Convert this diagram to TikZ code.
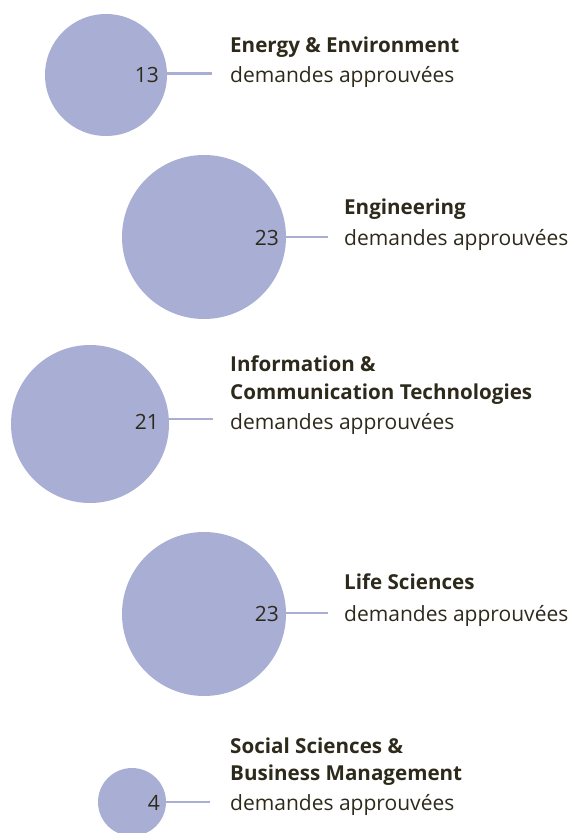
\documentclass[tikz,border=0pt]{standalone}
\usepackage{fontspec}
\setmainfont{Open Sans}
\definecolor{bub}{HTML}{A8AED4}
\definecolor{ink}{HTML}{2D2A1C}
\begin{document}
\begin{tikzpicture}[x=1pt,y=-1pt,
  bubble/.style={circle,fill=bub,draw=none,inner sep=0pt,minimum size=#1},
  num/.style={anchor=base east,inner sep=0pt,text=ink,font=\fontsize{21}{25}\selectfont},
  ttl/.style={anchor=base west,inner sep=0pt,text=ink,font=\fontsize{20.6}{25}\selectfont\bfseries},
  desc/.style={anchor=base west,inner sep=0pt,text=ink,font=\fontsize{21}{25}\selectfont},
  lead/.style={draw=bub,line width=2.2pt}]
\useasboundingbox (0,0) rectangle (571,833);
% row 1
\node[bubble=122pt] (c1) at (106,75) {};
\node[num] (n1) at (159,82) {13};
\node[ttl] (t1a) at (230,52) {Energy \& Environment};
\node[desc] (d1) at (230,82) {demandes approuvées};
\coordinate (e1) at (212,73.5);
\draw[lead] (c1.east |- e1) -- (e1);
% row 2
\node[bubble=164pt] (c2) at (204,237) {};
\node[num] (n2) at (279,245) {23};
\node[ttl] (t2a) at (344,214) {Engineering};
\node[desc] (d2) at (344,245) {demandes approuvées};
\coordinate (e2) at (328,237);
\draw[lead] (c2.east |- e2) -- (e2);
% row 3
\node[bubble=158pt] (c3) at (90,424) {};
\node[num] (n3) at (159,429) {21};
\node[ttl] (t3a) at (230,371) {Information \&};
\node[ttl] (t3b) at (230,399) {Communication Technologies};
\node[desc] (d3) at (230,429) {demandes approuvées};
\coordinate (e3) at (213,419);
\draw[lead] (c3.east |- e3) -- (e3);
% row 4
\node[bubble=164pt] (c4) at (204,614) {};
\node[num] (n4) at (279,621) {23};
\node[ttl] (t4a) at (344,589) {Life Sciences};
\node[desc] (d4) at (344,621) {demandes approuvées};
\coordinate (e4) at (328,613);
\draw[lead] (c4.east |- e4) -- (e4);
% row 5
\node[bubble=68pt] (c5) at (132,802) {};
\node[num] (n5) at (160,810) {4};
\node[ttl] (t5a) at (230,753) {Social Sciences \&};
\node[ttl] (t5b) at (230,780) {Business Management};
\node[desc] (d5) at (230,810) {demandes approuvées};
\coordinate (e5) at (210,802);
\draw[lead] (c5.east |- e5) -- (e5);
\end{tikzpicture}
\end{document}
